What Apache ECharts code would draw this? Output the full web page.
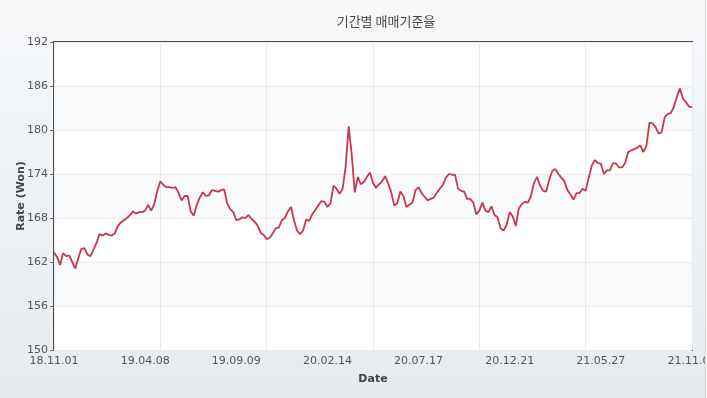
<!DOCTYPE html>
<html>
<head>
<meta charset="utf-8">
<script src="https://cdn.jsdelivr.net/npm/echarts@6/dist/echarts.min.js"></script>
<style>
    html, body {margin: 0; padding: 0; background: #ffffff;}
    #chart {width: 705px; height: 398px; border-right: 1px solid #cfd4d9;}
</style>
</head>
<body>
<div id="chart"></div>
<script>
// x positions are trading-day steps, 0..210
var tickLabels = ['18.11.01', '19.04.08', '19.09.09', '20.02.14', '20.07.17', '20.12.21', '21.05.27', '21.11.05'];
var labelStep = 30;
var gridStep = 35;

var rates = [
    163.3, 162.7, 161.6, 163.2, 162.8, 162.9, 162.0, 161.1, 162.5, 163.8,
    163.9, 163.0, 162.8, 163.7, 164.6, 165.8, 165.6, 165.9, 165.7, 165.6,
    165.9, 166.9, 167.4, 167.7, 168.0, 168.4, 168.9, 168.6, 168.8, 168.8,
    169.0, 169.8, 169.0, 169.9, 171.7, 173.0, 172.5, 172.2, 172.2, 172.1,
    172.2, 171.4, 170.4, 171.0, 171.0, 168.9, 168.3, 169.8, 170.8, 171.5,
    171.0, 171.1, 171.8, 171.7, 171.6, 171.8, 171.9, 170.0, 169.2, 168.8,
    167.7, 167.8, 168.1, 168.0, 168.4, 167.9, 167.5, 167.0, 166.0, 165.7,
    165.1, 165.3, 165.9, 166.6, 166.7, 167.7, 168.0, 168.9, 169.5, 167.7,
    166.3, 165.8, 166.3, 167.8, 167.6, 168.5, 169.1, 169.7, 170.3, 170.2,
    169.5, 170.0, 172.4, 172.0, 171.3, 172.0, 175.0, 180.5, 176.6, 171.5,
    173.6, 172.6, 172.9, 173.6, 174.2, 172.8, 172.1, 172.6, 173.0, 173.7,
    172.7, 171.5, 169.7, 170.0, 171.6, 171.0, 169.5, 169.8, 170.1, 171.8,
    172.2, 171.4, 170.9, 170.4, 170.6, 170.8, 171.4, 172.0, 172.5, 173.5,
    174.0, 173.9, 173.9, 172.0, 171.7, 171.6, 170.6, 170.6, 170.1, 168.5,
    169.0, 170.1, 169.0, 168.8, 169.6, 168.4, 168.1, 166.6, 166.3, 167.1,
    168.8, 168.2, 166.9, 169.3, 169.9, 170.2, 170.1, 171.0, 172.8, 173.6,
    172.4, 171.7, 171.6, 173.2, 174.4, 174.7, 174.0, 173.5, 173.0, 171.8,
    171.2, 170.5, 171.4, 171.4, 172.0, 171.7, 173.5, 175.1, 175.9, 175.5,
    175.4, 174.0, 174.5, 174.5, 175.5, 175.4, 174.9, 174.9, 175.5, 177.0,
    177.2, 177.4, 177.6, 177.9, 177.0, 177.8, 181.0, 180.9, 180.4, 179.5,
    179.7, 181.7, 182.2, 182.3, 183.1, 184.5, 185.7, 184.3, 183.8, 183.2,
    183.1
];

var yMin = 150;
var yMax = 192;
var yStep = 6;

(function () {
    char1();
})();

function char1() {

    var myChart = echarts.init(document.getElementById('chart'));
    var lastX = rates.length - 1;

    var points = rates.map(function (v, i) {
        return [i, v];
    });

    var option = {
        backgroundColor: {
            type: 'linear', x: 0, y: 0, x2: 0, y2: 1,
            colorStops: [
                {offset: 0, color: '#f6f8fa'},
                {offset: 1, color: '#e6ebef'}
            ]
        },
        textStyle: {fontFamily: 'DejaVu Sans'},
        title: {
            text: '기간별 매매기준율',
            left: 381,
            top: 10,
            textAlign: 'center',
            textStyle: {
                fontFamily: 'Noto Sans CJK KR',
                fontSize: 13,
                fontWeight: 'normal',
                color: '#4a4a4a'
            }
        },
        grid: {
            left: 54,
            right: 13,
            top: 42,
            bottom: 48,
            outerBoundsMode: 'none',
            containLabel: false,
            show: true,
            backgroundColor: '#ffffff',
            borderColor: '#4d4d4d',
            borderWidth: 2
        },
        xAxis: [
            {
                type: 'value',
                min: 0,
                max: lastX,
                interval: labelStep,
                name: 'Date',
                nameLocation: 'middle',
                nameGap: 24,
                nameTextStyle: {fontSize: 11, fontWeight: 'bold', color: '#444'},
                axisLine: {show: false},
                axisTick: {show: false},
                splitLine: {show: false},
                axisLabel: {
                    color: '#555',
                    fontSize: 11,
                    margin: 6,
                    alignMinLabel: 'center',
                    alignMaxLabel: 'center',
                    formatter: function (value) {
                        return tickLabels[Math.round(value / labelStep)] || '';
                    }
                }
            },
            {
                type: 'value',
                min: 0,
                max: lastX,
                interval: gridStep,
                position: 'bottom',
                axisLine: {show: false},
                axisTick: {show: false},
                axisLabel: {show: false},
                splitLine: {lineStyle: {color: '#e8eaed', width: 1}}
            }
        ],
        yAxis: {
            type: 'value',
            min: yMin,
            max: yMax,
            interval: yStep,
            name: 'Rate (Won)',
            nameLocation: 'middle',
            nameGap: 27,
            nameMoveOverlap: false,
            nameTextStyle: {fontSize: 11, fontWeight: 'bold', color: '#444'},
            axisLine: {show: false},
            axisTick: {show: true, length: 4, lineStyle: {color: '#666'}},
            axisLabel: {color: '#555', fontSize: 11, margin: 6},
            splitLine: {lineStyle: {color: '#e8eaed', width: 1}},
            splitArea: {
                show: true,
                areaStyle: {color: ['#ffffff', '#f8f9fb']}
            }
        },
        series: [
            {
                name: '매매기준율',
                type: 'line',
                xAxisIndex: 0,
                data: points,
                showSymbol: false,
                symbol: 'none',
                lineStyle: {color: '#c8384e', width: 1.8},
                itemStyle: {color: '#c8384e'},
                animation: false
            }
        ]
    };

    myChart.setOption(option);
    window.addEventListener('resize', function () {
        myChart.resize();
    });
}
</script>
</body>
</html>
